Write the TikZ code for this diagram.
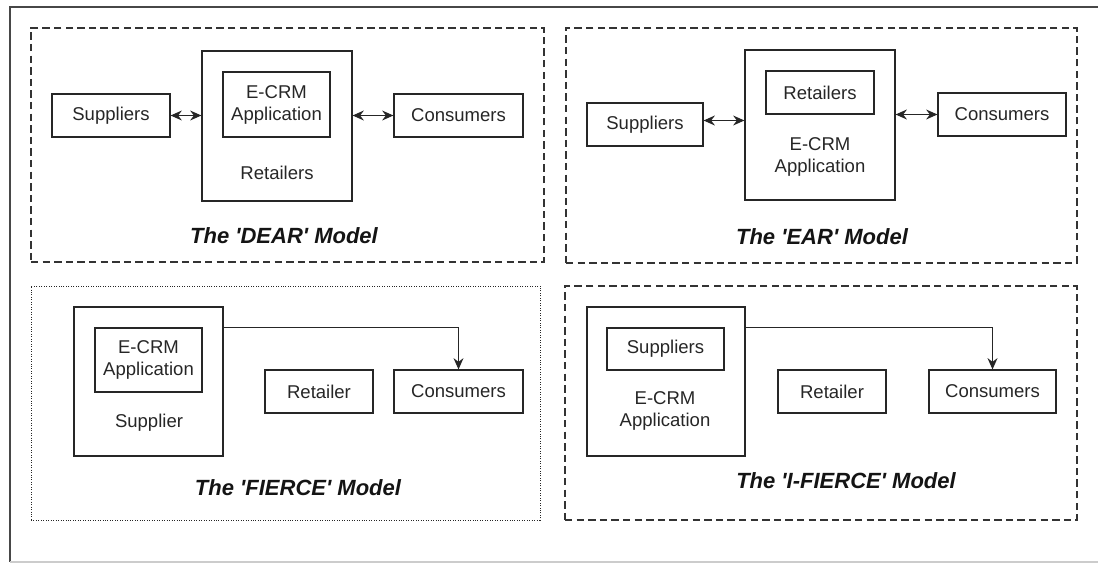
\documentclass[tikz,border=0pt]{standalone}
\usepackage{fontspec}
\setmainfont{Liberation Sans}
\newfontfamily\capfam{Liberation Sans}
\usetikzlibrary{arrows.meta,fit,calc}
\newcommand\boxfont{\fontsize{13.9}{16.5}\selectfont}
\newcommand\capfont{\capfam\fontsize{16.5}{19}\selectfont\bfseries\itshape}
\begin{document}
\begin{tikzpicture}[x=0.75pt,y=-0.75pt,
  ln/.style={draw=black!85, line width=0.85pt},
  box/.style={ln, rectangle, inner sep=0pt, font=\boxfont, text=black!85, align=center},
  txt/.style={font=\boxfont, text=black!85, align=center, inner sep=0pt},
  captxt/.style={font=\capfont, text=black!92, inner sep=0pt},
  frm/.style={draw=black!80, line width=0.8pt, dash pattern=on 5.5pt off 3.2pt, inner sep=0pt},
  dotfrm/.style={draw=black!85, line width=0.75pt, dash pattern=on 0.75pt off 1.1pt, inner sep=0pt},
  tip/.tip={Stealth[length=8.5pt,width=7.5pt,inset=2.8pt]},
  arr/.style={ln, -tip},
  darr/.style={ln, tip-tip}
]
\useasboundingbox (0,0) rectangle (1098,563);
% outer frame
\coordinate (otl) at (10,7);
\coordinate (otr) at (1098,7);
\coordinate (obl) at (10,562);
\coordinate (obr) at (1098,562);
\draw[draw=black!72, line width=1pt] (otr) -- (otl) -- (obl);
\draw[draw=black!20, line width=1pt] (obl) -- (obr);

% ---------- DEAR ----------
\node[frm, fit={(31,28) (544,262)}] (p1) {};
\node[box, minimum width=88.5pt, minimum height=32.25pt] (sup1) at (111,115.5) {Suppliers};
\node[box, minimum width=112.5pt, minimum height=112.5pt] (ret1) at (277,126) {};
\node[box, minimum width=80.25pt, minimum height=48.75pt] (ecrm1) at (276.5,104.5) {E-CRM\\Application};
\node[txt] (ret1lbl) at (277,173) {Retailers};
\node[box, minimum width=96.75pt, minimum height=32.25pt] (con1) at (458.5,115.5) {Consumers};
\draw[darr] (sup1.east) -- (sup1.east -| ret1.west);
\draw[darr] (ret1.east |- con1.west) -- (con1.west);
\node[captxt] (cap1) at (284,236) {The 'DEAR' Model};

% ---------- EAR ----------
\node[frm, fit={(566,28) (1077,263)}] (p2) {};
\node[box, minimum width=87pt, minimum height=32.25pt] (sup2) at (645,124.5) {Suppliers};
\node[box, minimum width=112.5pt, minimum height=112.5pt] (ret2) at (820,125) {};
\node[box, minimum width=81pt, minimum height=32.25pt] (retl2) at (820,92.5) {Retailers};
\node[txt] (ecrm2) at (820,157) {E-CRM\\Application};
\node[box, minimum width=96pt, minimum height=32.25pt] (con2) at (1002,114.5) {Consumers};
\coordinate (a2) at ($(sup2.east)+(0,-4)$);
\draw[darr] (a2) -- (a2 -| ret2.west);
\draw[darr] (ret2.east |- con2.west) -- (con2.west);
\node[captxt] (cap2) at (822,237) {The 'EAR' Model};

% ---------- FIERCE ----------
\node[dotfrm, fit={(31,286) (540,520)}] (p3) {};
\node[box, minimum width=111.75pt, minimum height=111.75pt] (sup3) at (148.5,381.5) {};
\node[box, minimum width=80.25pt, minimum height=48pt] (ecrm3) at (148.5,360) {E-CRM\\Application};
\node[txt] (sup3lbl) at (149,423) {Supplier};
\node[box, minimum width=81pt, minimum height=32.25pt] (ret3) at (319,391.5) {Retailer};
\node[box, minimum width=96.75pt, minimum height=32.25pt] (con3) at (458.5,391.5) {Consumers};
\draw[arr] (sup3.east |- ecrm3.north) -| (con3.north);
\node[captxt] (cap3) at (298,488) {The 'FIERCE' Model};

% ---------- I-FIERCE ----------
\node[frm, fit={(565,286) (1077,520)}] (p4) {};
\node[box, minimum width=118.5pt, minimum height=111.75pt] (ecrm4) at (666,381.5) {};
\node[box, minimum width=87.75pt, minimum height=31.5pt] (sup4) at (665.5,349) {Suppliers};
\node[txt] (ecrm4lbl) at (665,411) {E-CRM\\Application};
\node[box, minimum width=81pt, minimum height=32.25pt] (ret4) at (832,391.5) {Retailer};
\node[box, minimum width=95.25pt, minimum height=32.25pt] (con4) at (992.5,391.5) {Consumers};
\draw[arr] (ecrm4.east |- sup4.north) -| (con4.north);
\node[captxt] (cap4) at (846,481) {The 'I-FIERCE' Model};
\end{tikzpicture}
\end{document}
